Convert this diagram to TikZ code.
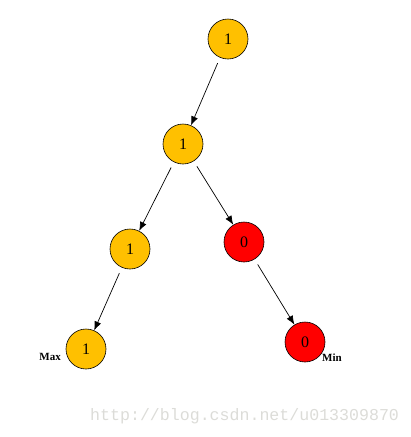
\documentclass[tikz,border=0pt]{standalone}
\usepackage{fontspec}
\setmainfont{Liberation Serif}
\newfontfamily\wmfont{Liberation Mono}
\usetikzlibrary{arrows.meta}
\definecolor{gold}{HTML}{FFC000}
\definecolor{wm}{HTML}{DCDCD8}
\begin{document}
\begin{tikzpicture}[x=1pt,y=-1pt,
  vtx/.style={circle,draw=black,line width=0.6pt,minimum size=40pt,inner sep=0pt,font=\fontsize{16}{18}\selectfont},
  yel/.style={vtx,fill=gold},
  rd/.style={vtx,fill=red},
  edge/.style={-{Latex[length=9pt,width=7pt]},line width=0.7pt,shorten <=6pt},
  lbl/.style={font=\bfseries\fontsize{11}{13}\selectfont,inner sep=0pt}]
\useasboundingbox (0,0) rectangle (411,437);
\node[yel] (a) at (228,39) {1};
\node[yel] (b) at (183,144) {1};
\node[yel] (c) at (130,249) {1};
\node[rd] (d) at (244,242) {0};
\node[yel] (e) at (86,349) {1};
\node[rd] (f) at (305,342) {0};
\draw[edge] (a) -- (b);
\draw[edge] (b) -- (c);
\draw[edge] (b) -- (d);
\draw[edge] (c) -- (e);
\draw[edge] (d) -- (f);
\node[lbl,anchor=east] (mx) at (61,357) {Max};
\node[lbl,anchor=west] (mn) at (322,358) {Min};
\node[font=\wmfont\fontsize{16.6}{18}\selectfont,text=wm,anchor=west,inner sep=0pt] (w) at (90,416) {http://blog.csdn.net/u013309870};
\end{tikzpicture}
\end{document}
